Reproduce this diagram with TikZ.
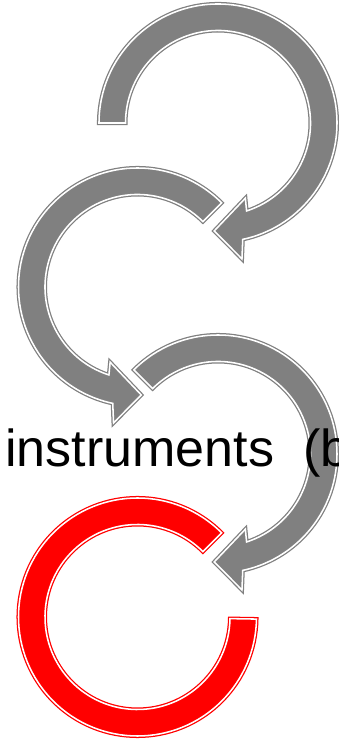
\documentclass[tikz,border=0pt]{standalone}
\usepackage{fontspec}
\setmainfont{Liberation Sans}
\usetikzlibrary{arrows.meta, positioning}
\definecolor{BandGray}{rgb}{0.5, 0.5, 0.5}
\definecolor{BandRed}{rgb}{1, 0, 0}

\newcommand{\Rout}{119}
\newcommand{\Rin}{92.5}
% bent arrow: tail at angle #1, runs clockwise, head near the bottom
\newcommand{\bentarrow}[2]{%
  \path[#2] (#1:\Rout) arc[start angle=#1, end angle=-78, radius=\Rout]
    -- (-80:138) -- (-92:108) -- (-70:80) -- (-72:\Rin)
    arc[start angle=-72, end angle=#1, radius=\Rin] -- cycle;}

\begin{document}
\begin{tikzpicture}[
    x=0.025cm, y=0.025cm,
    grayband/.style={fill=BandGray, draw=BandGray, double=white,
                     double distance=1.1pt, line width=0.9pt},
    redband/.style={fill=BandRed, draw=BandRed, double=white,
                    double distance=1.1pt, line width=0.9pt},
]
\path[use as bounding box] (0,0) rectangle (339,741);
\clip (0,0) rectangle (339,741);

% --- first arrow (top) ---
\begin{scope}[shift={(218,618)}]
    \bentarrow{180}{grayband}
\end{scope}

% --- second arrow, mirrored ---
\begin{scope}[shift={(137.5,454)}, xscale=-1]
    \bentarrow{135}{grayband}
\end{scope}

% --- third arrow ---
\begin{scope}[shift={(218,287)}]
    \bentarrow{135}{grayband}
\end{scope}

% --- red ring, no head ---
\begin{scope}[shift={(137.5,124)}]
    \path[redband] (45:\Rout) arc[start angle=45, end angle=359, radius=\Rout]
        -- (359:\Rin) arc[start angle=359, end angle=45, radius=\Rin] -- cycle;
\end{scope}

\node[anchor=base west, inner sep=0pt, font=\fontsize{37}{44}\selectfont]
    (caption) at (5,274) {instruments~~(b};

\end{tikzpicture}
\end{document}
